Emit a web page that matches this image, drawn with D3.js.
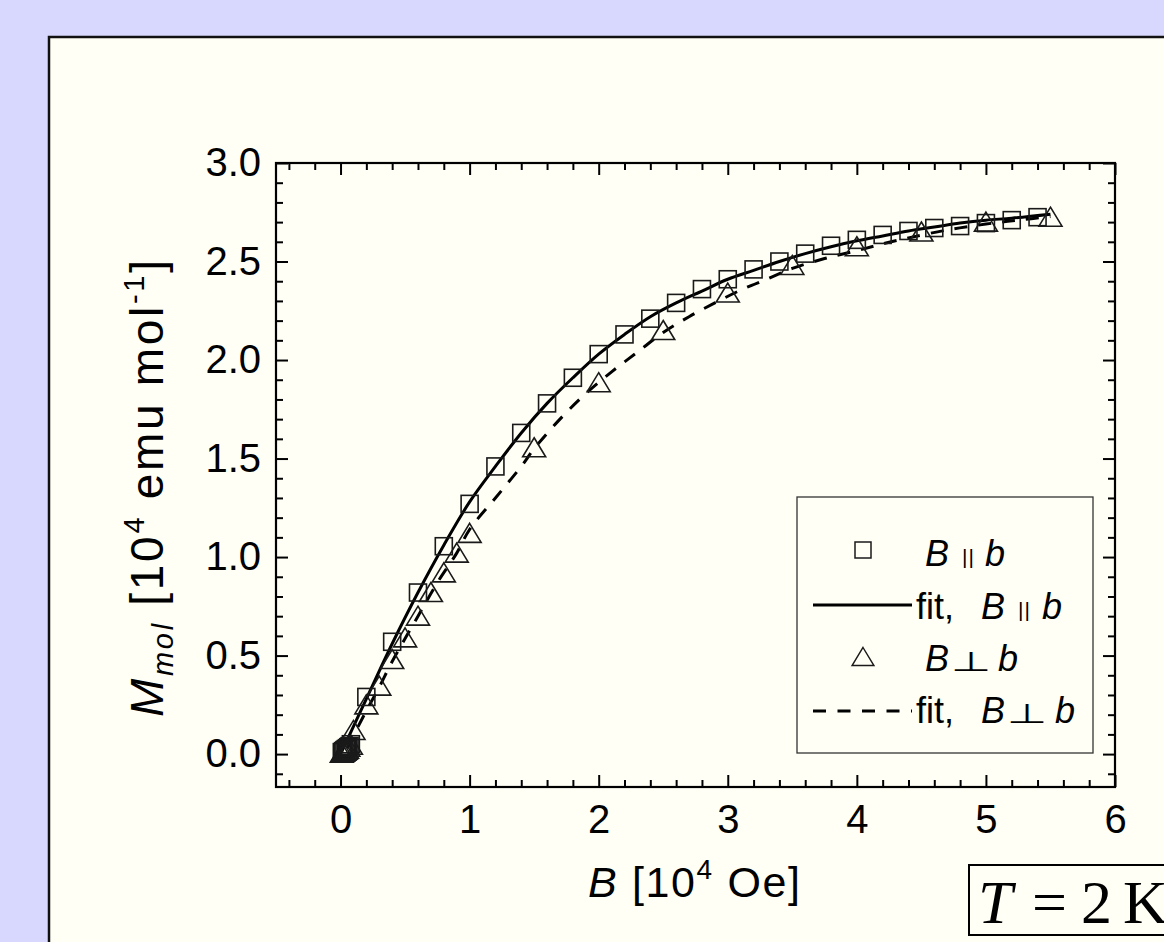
<!DOCTYPE html>
<html>
<head>
<meta charset="utf-8">
<script src="https://cdn.jsdelivr.net/npm/d3@7"></script>
<style>
  body { margin: 0; background: #d8d8fe; }
  svg { display: block; }
</style>
</head>
<body>
<div class="visHolder"></div>
<script>
var width = 1164,
  height = 942;

// measured M(B) at T = 2 K, field parallel to b  [10^4 Oe], [10^4 emu/mol]
var fieldPar = [0.01, 0.02, 0.03, 0.04, 0.05, 0.06, 0.07, 0.08, 0.2, 0.4, 0.6, 0.8, 1.0, 1.2, 1.4, 1.6, 1.8,
  2.0, 2.2, 2.4, 2.6, 2.8, 3.0, 3.2, 3.4, 3.6, 3.8, 4.0, 4.2, 4.4, 4.6, 4.8, 5.0, 5.2, 5.4];
var momentPar = [0.01, 0.015, 0.02, 0.025, 0.03, 0.035, 0.04, 0.05, 0.29, 0.57, 0.82, 1.055, 1.27, 1.46, 1.63, 1.78, 1.91,
  2.03, 2.13, 2.21, 2.29, 2.36, 2.41, 2.46, 2.50, 2.54, 2.58, 2.61, 2.635, 2.655, 2.67, 2.68, 2.695, 2.71, 2.725];

// field perpendicular to b
var fieldPerp = [0.01, 0.02, 0.03, 0.04, 0.05, 0.06, 0.08, 0.1, 0.2, 0.3, 0.4, 0.5, 0.6, 0.7, 0.8, 0.9, 1.0,
  1.5, 2.0, 2.5, 3.0, 3.5, 4.0, 4.5, 5.0, 5.5];
var momentPerp = [0.005, 0.01, 0.015, 0.02, 0.025, 0.035, 0.045, 0.12, 0.25, 0.345, 0.48, 0.59, 0.70, 0.82, 0.92, 1.02, 1.12,
  1.555, 1.885, 2.15, 2.34, 2.48, 2.575, 2.65, 2.70, 2.725];

// fit curves
var fitParField = [0.0, 0.2, 0.4, 0.6, 0.8, 1.0, 1.2, 1.4, 1.6, 1.8, 2.0, 2.2, 2.4, 2.6, 2.8, 3.0, 3.2, 3.4,
  3.6, 3.8, 4.0, 4.2, 4.4, 4.6, 4.8, 5.0, 5.2, 5.5];
var fitParMoment = [0.0, 0.28, 0.56, 0.82, 1.06, 1.28, 1.46, 1.63, 1.78, 1.91, 2.03, 2.13, 2.22, 2.29, 2.35, 2.41, 2.455, 2.50,
  2.54, 2.575, 2.605, 2.63, 2.655, 2.675, 2.695, 2.71, 2.72, 2.74];
var fitPerpField = [0.05, 0.2, 0.3, 0.4, 0.6, 0.75, 0.9, 1.0, 1.2, 1.4, 1.5, 1.7, 1.9, 2.1, 2.3, 2.5, 2.7, 2.9,
  3.1, 3.3, 3.5, 3.75, 4.0, 4.2, 4.4, 4.7, 5.0, 5.25, 5.5];
var fitPerpMoment = [0.03, 0.22, 0.34, 0.47, 0.70, 0.87, 1.02, 1.14, 1.30, 1.46, 1.55, 1.70, 1.83, 1.94, 2.04, 2.14, 2.22, 2.29,
  2.355, 2.41, 2.465, 2.515, 2.555, 2.59, 2.62, 2.66, 2.69, 2.71, 2.728];

var xTicks = [0, 1, 2, 3, 4, 5, 6];
var yTicks = [0.0, 0.5, 1.0, 1.5, 2.0, 2.5, 3.0];

var plotLeft = 276, plotRight = 1115, plotTop = 163, plotBottom = 787;
var sans = "'Liberation Sans', Arial, sans-serif";

var svg = d3.select(".visHolder").append("svg").attr("width", width).attr("height", height);

// cream panel
svg.append("rect")
  .attr("x", 49).attr("y", 37)
  .attr("width", width).attr("height", height)
  .attr("fill", "#fffff5")
  .attr("stroke", "#111").attr("stroke-width", 2.5);

var xScale = d3.scaleLinear().domain([-0.5, 6]).range([plotLeft, plotRight]);
var yScale = d3.scaleLinear().domain([-0.167, 3]).range([plotBottom, plotTop]);

var xMinor = d3.range(-0.4, 6, 0.2).filter(v => Math.abs(v - Math.round(v)) > 0.01);
var yMinor = d3.range(-0.1, 3, 0.1).filter(v => Math.abs(v * 2 - Math.round(v * 2)) > 0.01);

function addAxis(axis, tx, ty) {
  var g = svg.append("g").attr("transform", "translate(" + tx + "," + ty + ")").call(axis);
  g.select(".domain").remove();
  g.selectAll("line").attr("stroke", "#000").attr("stroke-width", 2);
  return g;
}

var xAxis = addAxis(d3.axisBottom(xScale).tickValues(xTicks).tickSize(-12).tickSizeOuter(0).tickFormat(d3.format("d")), 0, plotBottom);
xAxis.selectAll("text").attr("y", 46).attr("dy", 0)
  .style("font-family", sans).style("font-size", "40px").attr("fill", "#000");
addAxis(d3.axisBottom(xScale).tickValues(xMinor).tickSize(-7).tickSizeOuter(0).tickFormat(""), 0, plotBottom);
addAxis(d3.axisTop(xScale).tickValues(xTicks).tickSize(-12).tickSizeOuter(0).tickFormat(""), 0, plotTop);
addAxis(d3.axisTop(xScale).tickValues(xMinor).tickSize(-7).tickSizeOuter(0).tickFormat(""), 0, plotTop);

var yAxis = addAxis(d3.axisLeft(yScale).tickValues(yTicks).tickSize(-12).tickSizeOuter(0).tickPadding(15).tickFormat(d3.format(".1f")), plotLeft, 0);
yAxis.selectAll("text")
  .style("font-family", sans).style("font-size", "40px").attr("fill", "#000");
addAxis(d3.axisLeft(yScale).tickValues(yMinor).tickSize(-7).tickSizeOuter(0).tickFormat(""), plotLeft, 0);
addAxis(d3.axisRight(yScale).tickValues(yTicks).tickSize(-12).tickSizeOuter(0).tickFormat(""), plotRight, 0);
addAxis(d3.axisRight(yScale).tickValues(yMinor).tickSize(-7).tickSizeOuter(0).tickFormat(""), plotRight, 0);

// frame
svg.append("rect")
  .attr("x", plotLeft).attr("y", plotTop)
  .attr("width", plotRight - plotLeft).attr("height", plotBottom - plotTop)
  .attr("fill", "none").attr("stroke", "#000").attr("stroke-width", 2.2);

// axis titles
var xTitle = svg.append("text")
  .attr("x", 588).attr("y", 897)
  .attr("textLength", 212).attr("lengthAdjust", "spacing")
  .style("font-family", sans).style("font-size", "43px");
xTitle.append("tspan").style("font-style", "italic").text("B");
xTitle.append("tspan").text(" [10");
xTitle.append("tspan").attr("dy", -18).style("font-size", "28px").text("4");
xTitle.append("tspan").attr("dy", 18).text(" Oe]");

var yTitle = svg.append("text")
  .attr("transform", "translate(163,717) rotate(-90)")
  .attr("textLength", 457).attr("lengthAdjust", "spacing")
  .style("font-family", sans).style("font-size", "46px");
yTitle.append("tspan").style("font-style", "italic").text("M");
yTitle.append("tspan").attr("dy", 10).style("font-style", "italic").style("font-size", "29px").text("mol");
yTitle.append("tspan").attr("dy", -10).text(" [10");
yTitle.append("tspan").attr("dy", -19).style("font-size", "29px").text("4");
yTitle.append("tspan").attr("dy", 19).text(" emu mol");
yTitle.append("tspan").attr("dy", -19).style("font-size", "29px").text("-1");
yTitle.append("tspan").attr("dy", 19).text("]");

// fit curves
var line = d3.line()
  .x(d => xScale(d[0]))
  .y(d => yScale(d[1]))
  .curve(d3.curveCatmullRom);

svg.append("path")
  .datum(d3.zip(fitParField, fitParMoment))
  .attr("d", line)
  .attr("fill", "none").attr("stroke", "#000").attr("stroke-width", 3);

svg.append("path")
  .datum(d3.zip(fitPerpField, fitPerpMoment))
  .attr("d", line)
  .attr("fill", "none").attr("stroke", "#000").attr("stroke-width", 3)
  .attr("stroke-dasharray", "13,11");

// markers
var triPath = "M0,-10L11.5,9L-11.5,9Z";

svg.selectAll(".sq")
  .data(d3.zip(fieldPar, momentPar))
  .enter()
  .append("rect")
  .attr("class", "sq")
  .attr("x", d => xScale(d[0]) - 8.5)
  .attr("y", d => yScale(d[1]) - 8.5)
  .attr("width", 17).attr("height", 17)
  .attr("fill", "none").attr("stroke", "#1a1a1a").attr("stroke-width", 1.6);

svg.selectAll(".tri")
  .data(d3.zip(fieldPerp, momentPerp))
  .enter()
  .append("path")
  .attr("class", "tri")
  .attr("d", triPath)
  .attr("transform", d => "translate(" + xScale(d[0]) + "," + yScale(d[1]) + ")")
  .attr("fill", "none").attr("stroke", "#1a1a1a").attr("stroke-width", 1.6);

// legend
var legend = svg.append("g").attr("id", "legend");
legend.append("rect")
  .attr("x", 797).attr("y", 497).attr("width", 296).attr("height", 256)
  .attr("fill", "none").attr("stroke", "#333").attr("stroke-width", 1.3);

legend.append("rect")
  .attr("x", 855).attr("y", 542).attr("width", 16).attr("height", 16)
  .attr("fill", "none").attr("stroke", "#1a1a1a").attr("stroke-width", 1.5);
legend.append("line")
  .attr("x1", 813).attr("x2", 912).attr("y1", 605).attr("y2", 605)
  .attr("stroke", "#000").attr("stroke-width", 3);
legend.append("path")
  .attr("d", triPath)
  .attr("transform", "translate(863,657) scale(0.95)")
  .attr("fill", "none").attr("stroke", "#1a1a1a").attr("stroke-width", 1.5);
legend.append("line")
  .attr("x1", 813).attr("x2", 912).attr("y1", 711).attr("y2", 711)
  .attr("stroke", "#000").attr("stroke-width", 3)
  .attr("stroke-dasharray", "13,11.5");

// x positions of label pieces: [fit, B, symbol, b]
function legendLabel(y, pos, prefix, sym) {
  var t = legend.append("text").attr("y", y)
    .style("font-family", sans).style("font-size", "36px");
  if (prefix) t.append("tspan").attr("x", pos[0]).text(prefix);
  t.append("tspan").attr("x", pos[1]).style("font-style", "italic").text("B");
  if (sym === "par") {
    t.append("tspan").attr("x", pos[2]).attr("dy", -2).style("font-size", "21px").style("letter-spacing", "1px").text("||");
    t.append("tspan").attr("x", pos[3]).attr("dy", 2).style("font-style", "italic").text("b");
  } else {
    t.append("tspan").attr("x", pos[3]).style("font-style", "italic").text("b");
    // wide, flat perpendicular sign
    legend.append("text")
      .attr("transform", "translate(" + pos[2] + "," + y + ") scale(1.55,0.9)")
      .style("font-family", "'DejaVu Sans', sans-serif").style("font-size", "30px")
      .text("\u22A5");
  }
}
legendLabel(566, [0, 925, 962, 985], "", "par");
legendLabel(619, [916, 981, 1018, 1042], "fit,", "par");
legendLabel(671, [0, 925, 951, 998], "", "perp");
legendLabel(723, [916, 981, 1007, 1055], "fit,", "perp");

// temperature box
svg.append("rect")
  .attr("x", 969).attr("y", 865).attr("width", 260).attr("height", 70)
  .attr("fill", "none").attr("stroke", "#000").attr("stroke-width", 2);
var tLabel = svg.append("text").attr("y", 923)
  .style("font-family", "'Liberation Serif', 'Times New Roman', serif").style("font-size", "62px");
tLabel.append("tspan").attr("x", 978).style("font-style", "italic").text("T");
tLabel.append("tspan").attr("x", 1032).text("=");
tLabel.append("tspan").attr("x", 1081).text("2");
tLabel.append("tspan").attr("x", 1123).text("K");
</script>
</body>
</html>
